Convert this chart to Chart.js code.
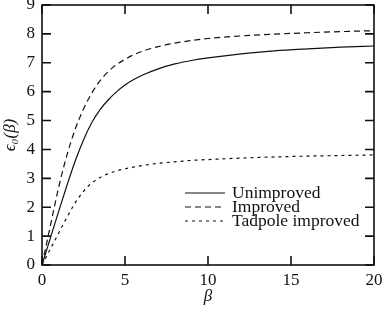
<!DOCTYPE html>
<html lang="en">
<head>
    <meta charset="UTF-8">
    <title>epsilon0(beta)</title>
    <script src="https://cdn.jsdelivr.net/npm/chart.js"></script>
    <style>
        html, body { margin: 0; padding: 0; background: #fff; }
        #wrap { width: 382px; height: 309px; position: relative; }
    </style>
</head>
<body>
    <div id="wrap"><canvas id="chart"></canvas></div>

    <script>
        // values
        const betas       = [0, 0.5, 1, 1.5, 2, 2.5, 3, 3.5, 4, 4.5, 5, 5.5, 6, 7, 8, 9, 10, 12, 14, 16, 18, 20];
        const unimproved  = [0, 0.93, 1.85, 2.75, 3.6, 4.33, 4.93, 5.38, 5.72, 6.0, 6.23, 6.41, 6.56, 6.79, 6.96, 7.08, 7.17, 7.31, 7.41, 7.48, 7.54, 7.58];
        const improved    = [0, 1.35, 2.68, 3.8, 4.7, 5.4, 5.95, 6.38, 6.7, 6.94, 7.12, 7.27, 7.39, 7.56, 7.68, 7.77, 7.84, 7.93, 7.99, 8.04, 8.08, 8.11];
        const tadpole     = [0, 0.55, 1.1, 1.65, 2.15, 2.55, 2.84, 3.03, 3.16, 3.26, 3.33, 3.39, 3.44, 3.52, 3.57, 3.62, 3.65, 3.7, 3.74, 3.77, 3.79, 3.81];
        const seriesNames = ['Unimproved', 'Improved', 'Tadpole improved'];
        const xTicks = [0, 5, 10, 15, 20];
        const yTicks = [0, 1, 2, 3, 4, 5, 6, 7, 8, 9];

        const ink = '#111';
        const serif = "'Liberation Serif', 'DejaVu Serif', serif";

        function pts(ys) {
            return betas.map((b, i) => ({ x: b, y: ys[i] }));
        }

        // frame with inward ticks on all four sides, plus legend inside the plot
        const framePlugin = {
            id: 'frame',
            afterDraw(chart) {
                const ctx = chart.ctx;
                const a = chart.chartArea;
                const xs = chart.scales.x, ys = chart.scales.y;
                const tl = 9;
                ctx.save();
                ctx.strokeStyle = ink;
                ctx.lineWidth = 1.6;
                ctx.strokeRect(a.left, a.top, a.right - a.left, a.bottom - a.top);
                ctx.beginPath();
                xTicks.forEach(v => {
                    const px = xs.getPixelForValue(v);
                    ctx.moveTo(px, a.bottom); ctx.lineTo(px, a.bottom - tl);
                    ctx.moveTo(px, a.top); ctx.lineTo(px, a.top + tl);
                });
                yTicks.forEach(v => {
                    const py = ys.getPixelForValue(v);
                    ctx.moveTo(a.left, py); ctx.lineTo(a.left + tl, py);
                    ctx.moveTo(a.right, py); ctx.lineTo(a.right - tl, py);
                });
                ctx.stroke();

                // legend
                ctx.font = '17.5px ' + serif;
                ctx.fillStyle = ink;
                ctx.textBaseline = 'middle';
                const x0 = a.left + 143, x1 = a.left + 183, tx = a.left + 190;
                chart.data.datasets.forEach((ds, i) => {
                    const y = a.top + 188 + i * 14;
                    ctx.beginPath();
                    ctx.setLineDash(ds.borderDash || []);
                    ctx.lineWidth = ds.borderWidth;
                    ctx.strokeStyle = ds.borderColor;
                    ctx.moveTo(x0, y); ctx.lineTo(x1, y);
                    ctx.stroke();
                    ctx.setLineDash([]);
                    ctx.fillText(ds.label, tx, y);
                });
                ctx.restore();
            }
        };

        const ctx = document.getElementById('chart').getContext('2d');
        const chart = new Chart(ctx, {
            type: 'line',
            data: {
                datasets: [
                    { label: seriesNames[0], data: pts(unimproved), borderColor: ink, borderWidth: 1.2, borderDash: [] },
                    { label: seriesNames[1], data: pts(improved), borderColor: ink, borderWidth: 1.2, borderDash: [6, 4] },
                    { label: seriesNames[2], data: pts(tadpole), borderColor: ink, borderWidth: 1.2, borderDash: [3, 4] }
                ]
            },
            options: {
                responsive: true,
                maintainAspectRatio: false,
                animation: false,
                elements: {
                    point: { radius: 0 },
                    line: { cubicInterpolationMode: 'monotone', fill: false }
                },
                layout: { autoPadding: false, padding: { top: 5, right: 8, left: 0, bottom: 0 } },
                plugins: {
                    legend: { display: false },
                    tooltip: { enabled: false }
                },
                scales: {
                    x: {
                        type: 'linear',
                        min: 0, max: 20,
                        afterBuildTicks: s => { s.ticks = xTicks.map(v => ({ value: v })); },
                        grid: { display: false, drawTicks: false, tickLength: 0 },
                        border: { display: false },
                        ticks: { color: ink, padding: 5, maxRotation: 0, font: { family: serif, size: 17 } },
                        title: { display: true, text: 'β', color: ink, padding: { top: 0, bottom: 2 }, font: { family: serif, size: 17, style: 'italic' } },
                        afterFit: s => { s.height = 44; s.paddingLeft = 0; s.paddingRight = 0; }
                    },
                    y: {
                        min: 0, max: 9,
                        afterBuildTicks: s => { s.ticks = yTicks.map(v => ({ value: v })); },
                        grid: { display: false, drawTicks: false, tickLength: 0 },
                        border: { display: false },
                        ticks: { color: ink, padding: 7, font: { family: serif, size: 17 } },
                        title: { display: true, text: 'ϵ₀(β)', color: ink, padding: 0, font: { family: serif, size: 17, style: 'italic' } },
                        afterFit: s => { s.width = 42; s.paddingTop = 0; s.paddingBottom = 0; }
                    }
                }
            },
            plugins: [framePlugin]
        });
    </script>
</body>
</html>
